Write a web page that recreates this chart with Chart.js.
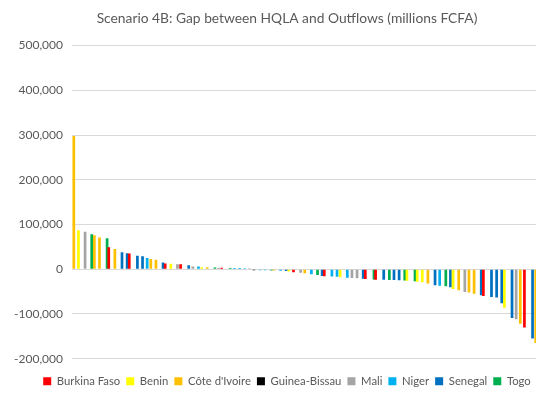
<!DOCTYPE html>
<html>
<head>
<meta charset="utf-8">
<script src="https://cdn.jsdelivr.net/npm/chart.js@4/dist/chart.umd.min.js"></script>
<style>
  html, body { margin: 0; padding: 0; overflow: hidden; background: #ffffff; }
  #wrap { width: 574px; height: 397px; }
</style>
</head>
<body>
<div id="wrap"><canvas id="gapChart" width="574" height="397"></canvas></div>
<script>
// Countries of the union, in legend order, with their bar colours
const countries = ['Burkina Faso', 'Benin', "Côte d'Ivoire", 'Guinea-Bissau', 'Mali', 'Niger', 'Senegal', 'Togo'];
const countryColors = ['#FF0000', '#FFFF00', '#FFC000', '#000000', '#A5A5A5', '#00B0F0', '#0070C0', '#00B050'];

// One entry per bank, sorted from largest surplus to largest shortfall:
// index into `countries` and the HQLA minus outflows gap (millions FCFA)
const bankCountry = [
  2, 1, 4, 7, 2, 2, 7, 0, 2, 6,
  6, 0, 6, 6, 5, 2, 2, 6, 0, 1,
  4, 0, 6, 4, 5, 1, 2, 7, 4, 0,
  7, 5, 5, 5, 4, 3, 5, 5, 7, 2,
  5, 6, 1, 0, 4, 2, 5, 7, 6, 0,
  5, 5, 1, 5, 4, 4, 6, 0, 7, 0,
  6, 7, 6, 6, 7, 1, 7, 1, 1, 2,
  6, 5, 7, 6, 1, 2, 4, 2, 2, 6,
  0, 6, 6, 6, 1, 6, 4, 2, 0, 6,
  2
];
const gapValues = [
  298000, 87000, 84000, 78000, 76000, 71000, 69000, 49000, 45000, 38000,
  36000, 35000, 30000, 29000, 25000, 23000, 21000, 15000, 13000, 12000,
  11000, 11000, 9000, 6000, 6000, 4500, 4500, 4000, 3500, 3500,
  3000, 2500, 2500, 2000, 2000, -2000, -2500, -2500, -3000, -3000,
  -3500, -4000, -5000, -7000, -8000, -9000, -11000, -13000, -15000, -15500,
  -16000, -17000, -18000, -19000, -19500, -20000, -21000, -22000, -23000, -23500,
  -23500, -24000, -24000, -24500, -25000, -25500, -27000, -28000, -29000, -32000,
  -36000, -37000, -38000, -40000, -44000, -47000, -51000, -52000, -55000, -58000,
  -60000, -62000, -63000, -76000, -86000, -109000, -112000, -122000, -130000, -155000,
  -165000
];

// Value axis range
const yMin = -200000;
const yMax = 500000;
const yStep = 100000;

const bankLabels = gapValues.map((_, i) => 'Bank ' + (i + 1));

const textColor = '#595959';
const gridColor = '#D9D9D9';
const fontFamily = 'Lato, "Open Sans", sans-serif';

// One series per country; each bank only has a value in its own country's series
const datasets = countries.map((name, k) => ({
  label: name,
  data: gapValues.map((v, i) => (bankCountry[i] === k ? v : null)),
  backgroundColor: countryColors[k],
  borderWidth: 0,
  categoryPercentage: 0.78,
  barPercentage: 5.4
}));

new Chart(document.getElementById('gapChart'), {
  type: 'bar',
  data: { labels: bankLabels, datasets },
  options: {
    responsive: false,
    animation: false,
    layout: { padding: { bottom: 0 } },
    plugins: {
      title: {
        display: true,
        text: 'Scenario 4B: Gap between HQLA and Outflows (millions FCFA)',
        color: textColor,
        font: { family: fontFamily, size: 13.8, weight: 'normal' },
        padding: { top: 10, bottom: 19 }
      },
      legend: {
        position: 'bottom',
        labels: {
          boxWidth: 8,
          boxHeight: 8,
          padding: 6,
          color: textColor,
          font: { family: fontFamily, size: 11.3 }
        }
      },
      tooltip: { enabled: false }
    },
    scales: {
      x: {
        display: true,
        grid: { display: false },
        border: { display: false },
        ticks: { display: false },
        afterFit: (s) => { s.height = 11; }
      },
      y: {
        min: yMin,
        max: yMax,
        grid: { color: gridColor, drawTicks: false },
        border: { display: false },
        ticks: {
          stepSize: yStep,
          padding: 9,
          color: textColor,
          font: { family: fontFamily, size: 12 },
          callback: (v) => v.toLocaleString('en-US')
        },
        afterFit: (s) => { s.width = 72; }
      },
      yRight: {
        position: 'right',
        display: true,
        grid: { display: false },
        border: { display: false },
        ticks: { display: false },
        afterFit: (s) => { s.width = 35; }
      }
    }
  }
});
</script>
</body>
</html>
